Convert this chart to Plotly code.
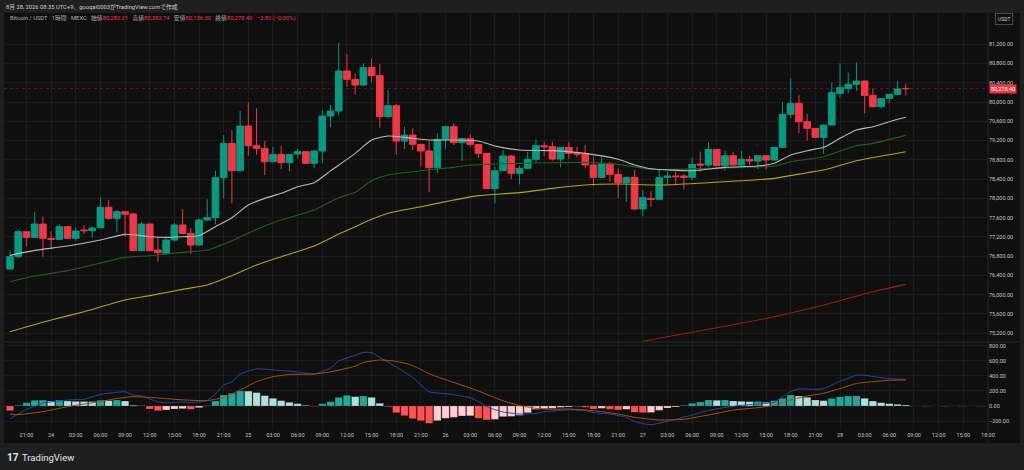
import pandas as pd
import plotly.graph_objects as go
from plotly.subplots import make_subplots

# ---- data: BTC/USDT 1h candles from 2026-08-23 19:00 (110 bars) ----
bar_start = "2026-08-23 19:00"

opens = [76533, 76789, 77308, 77190, 77467, 77170, 77149, 77412, 77170, 77343,
         77329, 77391, 77813, 77585, 77723, 77675, 76914, 77467, 76927, 76851,
         77135, 77447, 77274, 77031, 77550, 77599, 78429, 79142, 78574, 79502,
         79093, 79038, 78761, 78913, 78740, 78920, 78969, 78727, 78983, 79709,
         79813, 80644, 80471, 80353, 80720, 80547, 79695, 79924, 79190, 79315,
         79121, 78983, 78637, 79225, 79488, 79156, 79239, 79121, 78934, 78201,
         78574, 78879, 78519, 78623, 78810, 79093, 79073, 78817, 79059, 78934,
         78920, 78692, 78436, 78713, 78498, 78325, 78436, 77779, 78000, 77979,
         78436, 78464, 78464, 78436, 78713, 78692, 79017, 78678, 78886, 78692,
         78810, 78775, 78886, 78796, 79059, 79744, 79972, 79592, 79453, 79266,
         79522, 80180, 80277, 80367, 80436, 80138, 79903, 80076, 80159, 80282.21]
highs = [76914, 77357, 77310, 77723, 77620, 77322, 77460, 77426, 77398, 77447,
         77412, 78021, 77965, 77758, 77730, 77703, 77516, 77481, 77204, 77170,
         77495, 77772, 77377, 77585, 77979, 78574, 79315, 79419, 79813, 79993,
         79869, 79190, 79073, 79093, 78920, 79024, 78975, 78990, 79834, 79938,
         81232, 80996, 80595, 80803, 80907, 80789, 80249, 79958, 79488, 79453,
         79128, 79190, 79349, 79495, 79557, 79245, 79336, 79128, 78940, 78658,
         79003, 78900, 78671, 78969, 79225, 79176, 79176, 79065, 79176, 79073,
         79107, 78865, 78865, 78761, 78623, 78442, 78588, 78173, 78152, 78588,
         78554, 78554, 78505, 78844, 78969, 79163, 79024, 78990, 78969, 78983,
         78879, 78893, 78893, 79065, 79993, 80491, 80145, 79751, 79460, 79530,
         80401, 80803, 80609, 80823, 80443, 80284, 80083, 80165, 80436, 80382.74]
lows = [76520, 76760, 76997, 77180, 76789, 76962, 77140, 77160, 77121, 77260,
        77190, 77380, 77550, 77294, 77204, 76905, 76905, 76905, 76685, 76845,
        77100, 77270, 76844, 77025, 77530, 77460, 78000, 77896, 78565, 78879,
        78900, 78485, 78750, 78602, 78567, 78831, 78720, 78623, 78727, 79474,
        79730, 80318, 80159, 80332, 80408, 79467, 79682, 78913, 79024, 79003,
        78658, 78125, 78533, 79024, 79107, 78775, 79073, 78831, 78195, 77896,
        78565, 78402, 78291, 78615, 78747, 78879, 78782, 78644, 78817, 78851,
        78623, 78256, 78430, 78346, 78000, 77931, 77772, 77625, 77827, 77965,
        78298, 78277, 78187, 78381, 78554, 78658, 78672, 78574, 78685, 78623,
        78692, 78609, 78609, 78790, 79038, 79661, 79349, 79197, 79260, 78920,
        79515, 80090, 80180, 80228, 79765, 79889, 79869, 79972, 80145, 80136.30]
closes = [76789, 77308, 77190, 77467, 77170, 77149, 77412, 77170, 77322, 77329,
          77384, 77813, 77585, 77723, 77668, 76914, 77467, 76914, 76872, 77135,
          77447, 77274, 77031, 77550, 77599, 78429, 79142, 78574, 79502, 79093,
          79038, 78761, 78913, 78740, 78913, 78969, 78727, 78983, 79709, 79813,
          80644, 80471, 80353, 80713, 80547, 79695, 79924, 79190, 79315, 79121,
          78983, 78637, 79225, 79488, 79156, 79239, 79121, 78934, 78201, 78574,
          78879, 78519, 78623, 78810, 79093, 79073, 78817, 79059, 78934, 78920,
          78692, 78436, 78713, 78498, 78325, 78436, 77779, 78014, 77979, 78429,
          78464, 78450, 78436, 78706, 78692, 79017, 78678, 78886, 78692, 78810,
          78775, 78886, 78796, 79059, 79744, 79972, 79592, 79453, 79266, 79522,
          80194, 80298, 80367, 80436, 80138, 79903, 80076, 80159, 80270, 80278.40]

# moving averages, sampled at bar indices
ma_fast_idx = [0, 3, 7, 11, 14, 17, 19, 21, 23, 25, 27, 29, 31, 33, 35, 37, 39, 42, 44, 46, 48,
               51, 54, 57, 59, 62, 66, 70, 74, 76, 78, 83, 87, 91, 93, 95, 97, 99, 101, 103,
               105, 107, 109]
ma_fast_val = [76817, 76920, 77010, 77135, 77253, 77204, 77190, 77204, 77225, 77412, 77599,
               77862, 78000, 78104, 78242, 78325, 78570, 78934, 79211, 79294, 79266, 79211,
               79211, 79190, 79087, 79003, 78990, 78934, 78810, 78692, 78615, 78574, 78644,
               78671, 78727, 78900, 78990, 79059, 79246, 79419, 79488, 79592, 79682]

ma_mid_idx = [0, 3, 7, 10, 14, 17, 21, 24, 27, 30, 33, 37, 40, 42, 44, 46, 50, 54, 56, 58, 62,
              66, 70, 74, 78, 81, 85, 89, 93, 95, 97, 99, 103, 105, 109]
ma_mid_val = [76270, 76388, 76499, 76616, 76775, 76810, 76879, 76927, 77121, 77357, 77550,
              77758, 78014, 78125, 78367, 78485, 78574, 78644, 78692, 78706, 78727, 78740,
              78747, 78706, 78602, 78602, 78623, 78644, 78671, 78761, 78810, 78865, 79093,
              79142, 79308]

ma_slow_idx = [0, 5, 9, 14, 17, 21, 24, 27, 30, 33, 37, 40, 42, 44, 46, 50, 54, 57, 62, 66, 70,
               74, 79, 85, 93, 97, 99, 103, 109]
ma_slow_val = [75232, 75474, 75647, 75890, 75980, 76111, 76201, 76395, 76616, 76789, 77010,
               77260, 77412, 77564, 77689, 77827, 77965, 78056, 78118, 78208, 78277, 78298,
               78277, 78325, 78415, 78533, 78588, 78782, 78969]

ma_long_idx = [77, 85, 93, 99, 105, 109]
ma_long_val = [75035, 75281, 75543, 75785, 76062, 76215]

# MACD pane
macd_idx = [0, 2, 3, 4, 5, 7, 9, 11, 13, 14, 15, 16, 18, 19, 21, 22, 24, 25, 26, 27, 28, 30,
            31, 33, 35, 37, 39, 40, 42, 43, 44, 45, 47, 49, 51, 53, 54, 56, 57, 58, 59, 60, 62,
            64, 65, 67, 68, 70, 71, 73, 75, 76, 78, 80, 81, 83, 85, 87, 89, 91, 93, 94, 95, 96,
            98, 99, 101, 102, 103, 104, 106, 107, 109]
macd_val = [-170, -45, -5, 40, 55, 80, 90, 155, 182, 190, 147, 135, 55, 44, 53, 44, 75, 160,
            280, 320, 426, 495, 490, 472, 455, 426, 505, 600, 675, 715, 711, 648, 520, 380, 190,
            165, 150, 110, 60, -10, -50, -80, -107, -100, -75, -60, -53, -62, -89, -107, -151,
            -209, -249, -205, -178, -120, -60, -20, 9, 27, 50, 124, 195, 226, 222, 231, 330,
            369, 413, 409, 377, 364, 355]

signal_idx = [0, 1, 4, 6, 8, 11, 13, 15, 17, 19, 21, 24, 26, 28, 30, 32, 34, 37, 39, 42, 43,
              45, 47, 49, 51, 53, 56, 57, 59, 60, 62, 64, 66, 68, 70, 72, 74, 76, 79, 82, 83,
              86, 88, 91, 93, 95, 97, 99, 101, 103, 105, 107, 109]
signal_val = [-107, -115, -75, -31, 10, 58, 100, 124, 115, 98, 82, 71, 115, 213, 324, 391, 420,
              426, 455, 530, 580, 613, 595, 540, 430, 350, 240, 200, 110, 70, 5, -31, -44, -40,
              -53, -75, -107, -151, -186, -178, -160, -98, -55, -22, 9, 80, 133, 169, 232, 300,
              325, 343, 346]

hist_val = [-62, 9, 44, 76, 78, 67, 80, 67, 62, 60,
            58, 76, 71, 80, 67, 9, 4, -40, -62, -53,
            -40, -36, -44, -22, 4, 67, 147, 169, 200, 198,
            178, 138, 102, 71, 49, 31, 9, -4, 31, 58,
            115, 142, 124, 133, 115, 36, -9, -89, -129, -169,
            -195, -231, -195, -164, -151, -133, -130, -164, -186, -178,
            -142, -138, -124, -89, -44, -36, -31, -18, -13, -4,
            -18, -40, -31, -44, -53, -44, -84, -89, -86, -58,
            -27, -13, 9, 36, 53, 80, 76, 80, 67, 62,
            58, 60, 49, 71, 102, 147, 133, 115, 80, 71,
            100, 122, 132, 135, 102, 66, 44, 31, 22, 13]

price_ticks = [75200, 75600, 76000, 76400, 76800, 77200, 77600, 78000, 78400, 78800,
               79200, 79600, 80000, 80400, 80800, 81200]
macd_ticks = [-200, 0, 200, 400, 600, 800]
last_price = 80278.40

header_text = "8月 28, 2026 08:35 UTC+9、gooqal0003がTradingView.comで作成"
symbol_text = "Bitcoin / USDT · 1時間 · MEXC"
ohlc_labels = ["始値", "高値", "安値", "終値"]
ohlc_values = ["80,282.21", "80,382.74", "80,136.30", "80,278.40"]
change_text = "−3.82 (−0.00%)"

# ---- styling ----
FONT = "Roboto, 'Noto Sans CJK JP', sans-serif"
UP = "#089981"
DOWN = "#f23645"
GRID = "#1b1b1b"
BG = "#0f0f0f"
TXT = "#c4c4c4"

# pixel geometry of the plot area
L, R, T, B = 4, 988, 13, 430
SPLIT = 342


def px_x(x):
    return (x - L) / (R - L)


def px_y(y):
    return (B - y) / (B - T)


times = pd.date_range(bar_start, periods=len(closes), freq="h")

# time axis labels every 3 hours, day number at midnight
tick_times = pd.date_range("2026-08-23 21:00", "2026-08-28 18:00", freq="3h")
tick_labels = [str(t.day) if t.hour == 0 else t.strftime("%H:%M") for t in tick_times]

# histogram colours, TradingView style
hist_colors = []
for i, v in enumerate(hist_val):
    prev = hist_val[i - 1] if i > 0 else v
    if v >= 0:
        hist_colors.append("#26a69a" if v >= prev else "#b2dfdb")
    else:
        hist_colors.append("#ff5252" if v <= prev else "#ffcdd2")

fig = make_subplots(rows=2, cols=1, shared_xaxes=True, vertical_spacing=0)

fig.add_trace(go.Candlestick(
    x=times, open=opens, high=highs, low=lows, close=closes,
    increasing=dict(line=dict(color=UP, width=1), fillcolor=UP),
    decreasing=dict(line=dict(color=DOWN, width=1), fillcolor=DOWN),
    whiskerwidth=0, hoverinfo="skip", showlegend=False), row=1, col=1)

for idx, vals, color, w in [
    (ma_long_idx, ma_long_val, "#9e1a1a", 1.1),
    (ma_slow_idx, ma_slow_val, "#b3a51c", 1.1),
    (ma_mid_idx, ma_mid_val, "#1f5f22", 1.1),
    (ma_fast_idx, ma_fast_val, "#b9b9b9", 1.1),
]:
    fig.add_trace(go.Scatter(x=times[idx], y=vals, mode="lines",
                             line=dict(color=color, width=w, shape="spline", smoothing=0.6),
                             hoverinfo="skip", showlegend=False), row=1, col=1)

fig.add_trace(go.Bar(x=times, y=hist_val, marker=dict(color=hist_colors,
                     line=dict(color="rgba(0,0,0,0.35)", width=0.5)),
                     hoverinfo="skip", showlegend=False), row=2, col=1)
fig.add_trace(go.Scatter(x=times[macd_idx], y=macd_val, mode="lines",
                         line=dict(color="#2a44a8", width=1, shape="spline", smoothing=0.5),
                         hoverinfo="skip", showlegend=False), row=2, col=1)
fig.add_trace(go.Scatter(x=times[signal_idx], y=signal_val, mode="lines",
                         line=dict(color="#a8520e", width=1, shape="spline", smoothing=0.5),
                         hoverinfo="skip", showlegend=False), row=2, col=1)

x_range = ["2026-08-23 18:16", "2026-08-28 18:00:30"]
fig.update_xaxes(type="date", range=x_range, tickvals=tick_times, ticktext=tick_labels,
                 showgrid=True, gridcolor=GRID, gridwidth=1, zeroline=False, showline=False,
                 ticks="", rangeslider_visible=False, fixedrange=True)
fig.update_xaxes(showticklabels=False, row=1, col=1)
fig.update_xaxes(showticklabels=True, tickfont=dict(size=5.5, color=TXT), row=2, col=1)

fig.update_yaxes(side="right", range=[75018, 81848], tickvals=price_ticks, tickformat=",.2f",
                 showgrid=True, gridcolor=GRID, zeroline=False, ticks="",
                 tickfont=dict(size=5.5, color=TXT), domain=[px_y(SPLIT), 1],
                 fixedrange=True, row=1, col=1)
fig.update_yaxes(side="right", range=[-320, 853], tickvals=macd_ticks, tickformat=",.2f",
                 showgrid=True, gridcolor=GRID, zeroline=False, ticks="",
                 tickfont=dict(size=5.5, color=TXT), domain=[0, px_y(SPLIT)],
                 fixedrange=True, row=2, col=1)

shapes = [
    # dark background behind the axis label strips
    dict(type="rect", xref="paper", yref="paper", x0=1, x1=px_x(1020), y0=px_y(443), y1=1,
         fillcolor=BG, line=dict(width=0), layer="below"),
    dict(type="rect", xref="paper", yref="paper", x0=0, x1=1, y0=px_y(443), y1=0,
         fillcolor=BG, line=dict(width=0), layer="below"),
    # pane separator and price scale border
    dict(type="line", xref="paper", yref="paper", x0=0, x1=px_x(1020),
         y0=px_y(SPLIT), y1=px_y(SPLIT), line=dict(color="#2b2b2b", width=1)),
    dict(type="line", xref="paper", yref="paper", x0=1, x1=1, y0=px_y(443), y1=1,
         line=dict(color="#262626", width=1)),
    # last price line
    dict(type="line", xref="paper", yref="y", x0=0, x1=1, y0=last_price, y1=last_price,
         line=dict(color="rgba(242,54,69,0.35)", width=1, dash="dot")),
    # MACD zero line
    dict(type="line", xref="paper", yref="y2", x0=0, x1=1, y0=0, y1=0,
         line=dict(color="rgba(120,123,134,0.45)", width=1, dash="dash"), layer="below"),
]

red = "#f23645"
gap = "\u00a0\u00a0\u00a0"
legend_parts = [symbol_text]
for lab, val in zip(ohlc_labels, ohlc_values):
    legend_parts.append(f"{lab}<span style='color:{red}'>{val}</span>")
legend_parts.append(f"<span style='color:{red}'>{change_text}</span>")
legend_html = gap.join(legend_parts)

annotations = [
    dict(text=header_text, xref="paper", yref="paper", x=px_x(4), y=px_y(6.5),
         xanchor="left", yanchor="middle", showarrow=False,
         font=dict(size=5.8, color="#d0d0d0")),
    dict(text=legend_html, xref="paper", yref="paper", x=px_x(8), y=px_y(18),
         xanchor="left", yanchor="middle", showarrow=False,
         font=dict(size=5.8, color="#b0b0b0")),
    dict(text="USDT", xref="paper", yref="paper", x=px_x(1004), y=px_y(19),
         xanchor="center", yanchor="middle", showarrow=False,
         font=dict(size=5, color="#d0d0d0"), bordercolor="#4a4a4a", borderwidth=1,
         borderpad=2, bgcolor=BG),
    dict(text=f"{last_price:,.2f}", xref="paper", yref="y", x=px_x(989), y=last_price,
         xanchor="left", yanchor="middle", showarrow=False,
         font=dict(size=5.5, color="#ffffff"), bgcolor=red, borderpad=1),
    dict(text="<b>17</b>", xref="paper", yref="paper", x=px_x(5), y=px_y(457),
         xanchor="left", yanchor="middle", showarrow=False,
         font=dict(size=10, color="#e8e8e8")),
    dict(text="TradingView", xref="paper", yref="paper", x=px_x(20), y=px_y(457),
         xanchor="left", yanchor="middle", showarrow=False,
         font=dict(size=9.5, color="#e8e8e8")),
]

fig.update_layout(
    width=1024, height=470,
    margin=dict(l=L, r=1024 - R, t=T, b=470 - B),
    paper_bgcolor="#1f1f1f", plot_bgcolor=BG,
    font=dict(family=FONT, size=5.5, color=TXT),
    showlegend=False, bargap=0.1, boxgap=0.1, boxgroupgap=0.1,
    shapes=shapes, annotations=annotations,
)

fig.write_html("out.html", config={"displayModeBar": False},
               post_script="document.body.style.margin='0';"
               "document.body.style.background='#1f1f1f';")
